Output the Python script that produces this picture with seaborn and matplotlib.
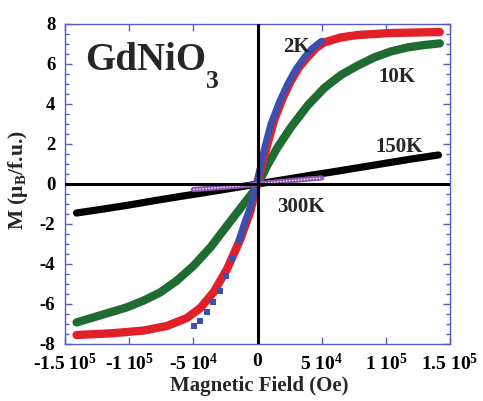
import matplotlib
matplotlib.use("Agg")
import matplotlib.pyplot as plt
import seaborn as sns
from matplotlib.ticker import MultipleLocator, FixedLocator

# ---------------- data ----------------
field_red = [-1.41e5, -1.15e5, -8.9e4, -7.06e4, -5.5e4, -4.45e4, -3.41e4, -2.37e4,
             -1.33e4, -5.5e3, 0.0, 5.0e3, 1.3e4, 2.0e4, 2.6e4, 3.25e4, 3.9e4, 4.55e4,
             5.2e4, 6.5e4, 7.8e4, 1.04e5, 1.42e5]
m_red = [-7.55, -7.47, -7.33, -7.1, -6.7, -6.2, -5.4, -4.25,
         -2.75, -1.35, 0.1, 1.35, 3.2, 4.35, 5.15, 5.85, 6.35, 6.8,
         7.08, 7.33, 7.45, 7.55, 7.6]

field_green = [-1.41e5, -1.279e5, -1.149e5, -1.019e5, -8.88e4, -7.58e4, -6.28e4, -4.97e4,
               -3.67e4, -2.37e4, -1.07e4, -1.6e3, 7.8e3, 1.56e4, 2.6e4, 3.9e4, 5.2e4,
               6.5e4, 7.8e4, 9.1e4, 1.04e5, 1.17e5, 1.3e5, 1.42e5]
m_green = [-6.92, -6.67, -6.42, -6.17, -5.83, -5.42, -4.83, -4.08,
           -3.17, -2.08, -1.0, -0.25, 0.95, 1.83, 2.83, 3.92, 4.8,
           5.45, 5.92, 6.33, 6.63, 6.83, 6.95, 7.03]

field_2K_dense = [-1.46e4, -9.5e3, -5.6e3, 0.0, 5.0e3, 1.04e4, 1.7e4, 2.34e4,
                  3.0e4, 3.65e4, 4.2e4, 4.69e4, 5.0e4]
m_2K_dense = [-2.83, -1.83, -1.17, 0.15, 1.7, 3.0, 4.1, 5.0,
              5.75, 6.33, 6.75, 7.0, 7.15]

field_2K_sparse = [-4.97e4, -4.45e4, -3.93e4, -3.46e4, -2.94e4, -2.45e4, -1.98e4]
m_2K_sparse = [-7.08, -6.83, -6.42, -5.92, -5.37, -4.58, -3.75]

field_150K = [-1.41e5, -1.2e5, -1.0e5, -8.0e4, -6.0e4, -4.0e4, -2.0e4, 0.0,
              2.0e4, 4.0e4, 6.0e4, 8.0e4, 1.0e5, 1.2e5, 1.41e5]
m_150K = [-1.45, -1.25, -1.05, -0.83, -0.62, -0.42, -0.21, 0.0,
          0.21, 0.42, 0.62, 0.83, 1.04, 1.25, 1.45]

field_300K = [-5.0e4, -4.0e4, -3.0e4, -2.0e4, -1.0e4, 0.0, 1.0e4, 2.0e4, 3.0e4, 4.0e4, 5.0e4]
m_300K = [-0.28, -0.23, -0.18, -0.13, -0.08, 0.0, 0.07, 0.13, 0.19, 0.25, 0.3]

x_ticks = [-1.5e5, -1.0e5, -5.0e4, 0.0, 5.0e4, 1.0e5, 1.5e5]
x_ticklabels = [r"-1.5 $\mathrm{10^{5}}$", r"-1 $\mathrm{10^{5}}$", r"-5 $\mathrm{10^{4}}$", "0",
                r"5 $\mathrm{10^{4}}$", r"1 $\mathrm{10^{5}}$", r"1.5 $\mathrm{10^{5}}$"]
y_ticks = [-8, -6, -4, -2, 0, 2, 4, 6, 8]

curve_labels = ["2K", "10K", "150K", "300K"]
curve_label_pos = [(2.03e4, 6.6), (9.4e4, 5.1), (9.2e4, 1.6), (1.56e4, -1.4)]

# ---------------- style ----------------
sns.set_style("ticks")
plt.rcParams["font.family"] = ["Liberation Serif", "DejaVu Serif"]
plt.rcParams["font.weight"] = "bold"
plt.rcParams["axes.unicode_minus"] = False
plt.rcParams["mathtext.fontset"] = "custom"
plt.rcParams["mathtext.rm"] = "Liberation Serif:bold"
plt.rcParams["mathtext.bf"] = "Liberation Serif:bold"
plt.rcParams["mathtext.it"] = "Liberation Serif:bold"

RED = "#e2202a"
GREEN = "#1f6c33"
BLUE = "#3a4fb0"
PURPLE = "#9356b3"
SPINE = "#5b5bc8"

fig, ax = plt.subplots(figsize=(4.83, 4.01), dpi=100)
fig.subplots_adjust(left=65 / 483, right=450 / 483, top=1 - 24 / 401, bottom=1 - 344 / 401)

common = dict(ax=ax, sort=False, estimator=None, solid_capstyle="round",
              solid_joinstyle="round", legend=False)
sns.lineplot(x=field_150K, y=m_150K, color="black", linewidth=5.2, **common)
sns.lineplot(x=field_green, y=m_green, color=GREEN, linewidth=6.0, **common)
sns.lineplot(x=field_red, y=m_red, color=RED, linewidth=6.0, **common)
sns.lineplot(x=field_2K_dense, y=m_2K_dense, color=BLUE, linewidth=4.8, **common)
sns.scatterplot(x=field_2K_sparse, y=m_2K_sparse, marker="s", s=18, color=BLUE,
                edgecolor="none", ax=ax, legend=False, zorder=3)
sns.lineplot(x=field_300K, y=m_300K, color=PURPLE, linewidth=3.8, ax=ax, sort=False,
             estimator=None, legend=False)
sns.lineplot(x=field_300K, y=m_300K, color="white", linewidth=0.9, ax=ax, sort=False,
             estimator=None, legend=False, linestyle=(0, (1.2, 1.2)))

ax.axhline(0, color="black", linewidth=2.2, zorder=6)
ax.axvline(0, color="black", linewidth=2.2, zorder=6)

ax.set_xlim(-1.5e5, 1.5e5)
ax.set_ylim(-8, 8)
ax.xaxis.set_major_locator(FixedLocator(x_ticks))
ax.set_xticklabels(x_ticklabels)
ax.yaxis.set_major_locator(FixedLocator(y_ticks))
ax.yaxis.set_minor_locator(MultipleLocator(0.5))
ax.set_yticklabels([str(v) for v in y_ticks])

for sp in ax.spines.values():
    sp.set_visible(True)
    sp.set_color(SPINE)
    sp.set_linewidth(1.0)
ax.tick_params(axis="both", which="both", direction="in", color=SPINE, width=1.0,
               top=True, right=True, labelsize=14, labelcolor="black")
ax.tick_params(axis="x", which="major", length=5, pad=6.5)
ax.tick_params(axis="y", which="major", length=5, pad=7, labelsize=13.5)
ax.tick_params(axis="y", which="minor", length=3)
ax.tick_params(axis="x", which="minor", bottom=False, top=False)
for lab in ax.get_xticklabels() + ax.get_yticklabels():
    lab.set_fontweight("bold")
for lab in ax.get_yticklabels():
    lab.set_verticalalignment("center_baseline")

ax.set_xlabel("")
ax.set_ylabel("")
fig.text(0.536, 0.026, "Magnetic Field (Oe)", ha="center", va="baseline",
         fontsize=15, fontweight="bold")
fig.text(0.037, 0.551, r"M ($\mathrm{μ_B}$/f.u.)", ha="center", va="center",
         rotation=90, fontsize=15.5, fontweight="bold")

ax.text(-1.344e5, 5.7, "GdNiO", fontsize=28, fontweight="bold", ha="left", va="baseline")
ax.text(-4.0e4, 4.8, "3", fontsize=18.5, fontweight="bold", ha="left", va="baseline")

for lab, (lx, ly) in zip(curve_labels, curve_label_pos):
    ax.text(lx, ly, lab, fontsize=15, fontweight="bold", ha="left", va="baseline", zorder=7)

fig.savefig("out.png", dpi=100)
